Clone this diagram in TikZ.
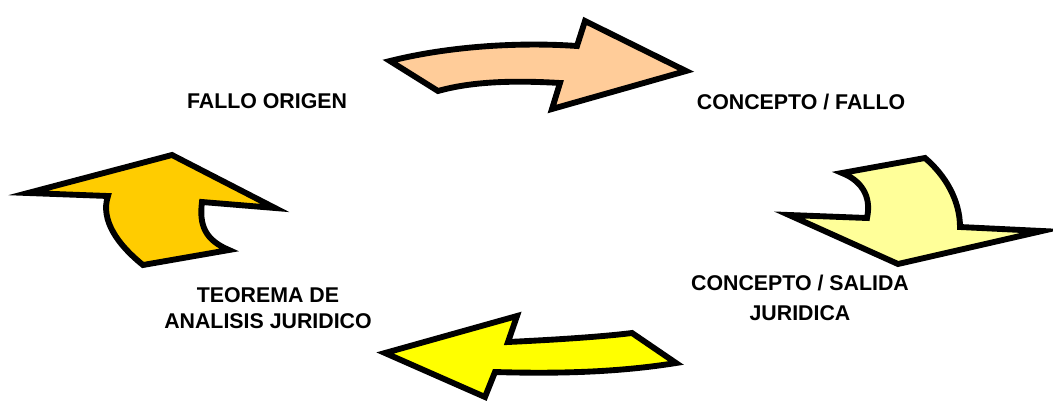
\documentclass[tikz,border=0pt]{standalone}
\usepackage{fontspec}
\setmainfont{Liberation Sans}
\definecolor{peach}{HTML}{FFCC99}
\definecolor{paleyellow}{HTML}{FFFF99}
\definecolor{brightyellow}{HTML}{FFFF00}
\definecolor{goldorange}{HTML}{FFCC00}
\tikzset{
  bigarrow/.style={draw=black, line width=4.4pt, line join=miter, miter limit=12},
  steplabel/.style={font=\bfseries\fontsize{16}{21}\selectfont, align=center, inner sep=0pt}
}
\begin{document}
\begin{tikzpicture}[x=0.75pt, y=-0.75pt]
            \useasboundingbox (0,0) rectangle (1053,407);

            % top arrow
            \draw[bigarrow, fill=peach] (390,61) .. controls (450,46) and (520,42) .. (577,46)
                -- (585,21) -- (686,71) -- (552,109) -- (560,83)
                .. controls (510,80) and (470,82) .. (438,91) -- cycle;

            % right arrow
            \draw[bigarrow, fill=paleyellow] (842,173) -- (925,158)
                .. controls (945,175) and (960,200) .. (960,227)
                -- (1042,231) -- (898,264) -- (789,215) -- (867,218)
                .. controls (872,195) and (860,180) .. cycle;

            % bottom arrow
            \draw[bigarrow, fill=brightyellow] (676,363) -- (632,333)
                .. controls (600,337) and (550,340) .. (508,342)
                -- (517,316) -- (385,353) -- (485,397) -- (495,372)
                .. controls (560,374) and (620,372) .. cycle;

            % left arrow
            \draw[bigarrow, fill=goldorange] (28,193) -- (172,155) -- (275,208) -- (202,202)
                .. controls (199,225) and (205,240) .. (229,250)
                -- (143,265)
                .. controls (118,245) and (100,220) .. (108,196) -- cycle;

            \node[steplabel] (origen) at (267,101) {FALLO ORIGEN};
            \node[steplabel] (fallo) at (801,102) {CONCEPTO / FALLO};
            \node[steplabel, font=\bfseries\fontsize{16}{22}\selectfont] (salida) at (800,298) {CONCEPTO / SALIDA\\JURIDICA};
            \node[steplabel, font=\bfseries\fontsize{16}{19}\selectfont] (teorema) at (268,308) {TEOREMA DE\\ANALISIS JURIDICO};
        \end{tikzpicture}
\end{document}
